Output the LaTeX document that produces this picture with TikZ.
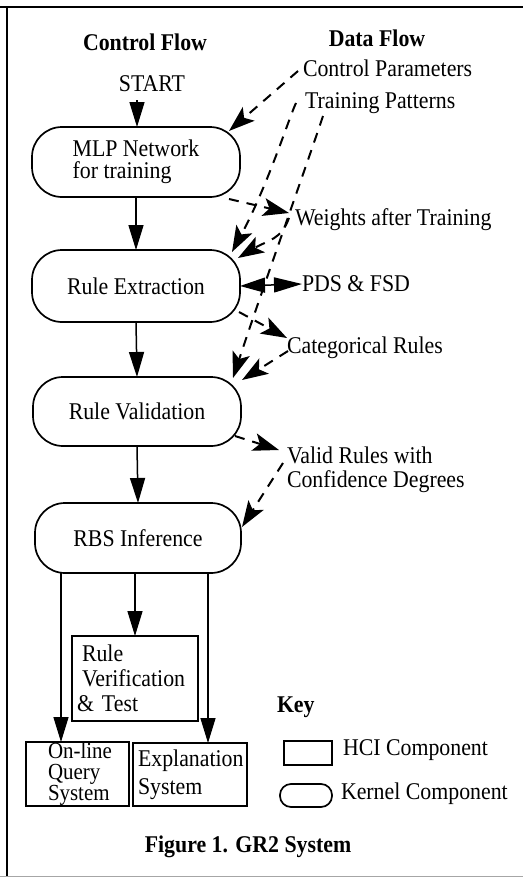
\documentclass[tikz,border=0pt]{standalone}
\usepackage{fontspec}
\setmainfont{Liberation Serif}[FakeStretch=0.91]
\usetikzlibrary{arrows.meta,calc}
\newcommand{\fs}[2]{\fontsize{#1}{#2}\selectfont}
\begin{document}
\begin{tikzpicture}[x=1pt,y=-1pt,
  every node/.style={font=\fs{24}{24}, inner sep=0pt, outer sep=0pt},
  bold/.style={font=\fs{24}{24}\bfseries},
  kernel/.style={draw, line width=1.7pt, rounded corners=30pt, minimum width=208pt, minimum height=70pt, align=left},
  hci/.style={draw, line width=1.7pt, align=left},
  lab/.style={anchor=west, align=left},
  arr/.style={line width=1.5pt, -{Triangle[length=25pt,width=15pt]}},
  darr/.style={line width=2pt, dash pattern=on 10pt off 8pt, -{Stealth[length=26pt,width=18pt,inset=6pt]}},
]
\useasboundingbox (0,0) rectangle (523,878);
% frame
\draw[line width=2pt] (0,7) -- (523,7);
\draw[line width=2pt] (7,7) -- (7,876);
\draw[line width=1pt, black!35] (0,876) -- (523,876);

% headings
\node[bold] (cf) at (145,42) {Control Flow};
\node[bold] (df) at (377,38) {Data Flow};
\node (start) at (152,84) {START};
\node[lab] (cp) at (303,68) {Control Parameters};
\node[lab] (tp) at (305,103) {Training Patterns};

% kernel nodes
\node[kernel, font=\fs{24}{22}] (mlp) at (136,162) {MLP Network\\for training};
\node[kernel, minimum height=72pt] (re) at (136,286) {Rule Extraction};
\node[kernel, minimum height=69pt] (rv) at (137,411.5) {Rule Validation};
\node[kernel, minimum width=206pt] (rbs) at (138,538) {RBS Inference};

% hci nodes
\node[hci, font=\fs{24}{25}, text width=126pt, minimum height=85pt] (rvt) at (135,678.5)
  {\hspace*{10pt}Rule\\\hspace*{10pt}Verification\\\hspace*{5pt}\&~Test};
\node[hci, font=\fs{23}{21}, text width=103pt, minimum height=64pt] (olq) at (77.5,774)
  {\hspace*{22pt}On-line\\\hspace*{22pt}Query\\\hspace*{22pt}System};
\node[hci, font=\fs{24}{28}, text width=114pt, minimum height=63pt] (exp) at (190,774.5)
  {\hspace*{5pt}Explanation\\\hspace*{5pt}System};

% data labels
\node[lab] (wat) at (295,220) {Weights after Training};
\node[lab] (pds) at (302,284) {PDS \& FSD};
\node[lab] (cat) at (287,348) {Categorical Rules};
\node[lab] (vr) at (287,470) {Valid Rules with\\Confidence Degrees};

% key
\node[bold, anchor=west] (key) at (277,707) {Key};
\node[draw, line width=1.7pt, minimum width=48pt, minimum height=24pt] (hcik) at (308,753) {};
\node[lab] (hcil) at (343,750) {HCI Component};
\node[draw, line width=1.7pt, rounded corners=11pt, minimum width=52pt, minimum height=23pt] (kerk) at (306,795.5) {};
\node[lab] (kerl) at (341,794) {Kernel Component};

% caption
\node[bold] (cap) at (248,847) {Figure 1. GR2 System};

% control flow
\coordinate (s0) at (137,100);
\draw[arr] (s0) -- (s0 |- mlp.north);
\draw[arr] (mlp.south) -- (re.north);
\draw[arr] (re.south) -- (rv.north);
\draw[arr] (rv.south) -- (rbs.north);
\coordinate (xl) at (61,0);
\coordinate (xm) at (135,0);
\coordinate (xr) at (208,0);
\draw[arr] (rbs.south -| xl) -- (olq.north -| xl);
\draw[arr] (rbs.south -| xm) -- (rvt.north -| xm);
\draw[arr] (rbs.south -| xr) -- (exp.north -| xr);

% data flow
\coordinate (cp0) at (298,71);
\coordinate (mlpA) at (229,131);
\draw[darr] (cp0) -- (mlpA);

\coordinate (tp1) at (296,103);
\coordinate (reA) at (232,252);
\draw[darr] (tp1) .. controls (290,115) and (268,185) .. (reA);

\coordinate (tp2) at (323,116);
\coordinate (rvA) at (233,378);
\draw[darr] (tp2) .. controls (305,170) and (262,290) .. (rvA);

\coordinate (mlpB) at (229,199);
\coordinate (watA) at (289,213);
\draw[darr] (mlpB) -- (watA);

\coordinate (wat0) at (289,218);
\coordinate (reB) at (238,258);
\draw[darr] (wat0) .. controls (281,240) and (268,240) .. (reB);

\draw[line width=1.5pt, {Triangle[length=25pt,width=15pt]}-{Triangle[length=28pt,width=15pt]}] (re.east) -- (pds.west);

\coordinate (reC) at (239,312);
\coordinate (catA) at (287,338);
\draw[darr] (reC) -- (catA);

\coordinate (cat0) at (288,351);
\coordinate (rvB) at (242,380);
\draw[darr] (cat0) -- (rvB);

\coordinate (rvC) at (235,436);
\coordinate (vrA) at (279,450);
\draw[darr] (rvC) -- (vrA);

\coordinate (vr0) at (283,463);
\coordinate (rbsA) at (242,527);
\draw[darr] (vr0) -- (rbsA);
\end{tikzpicture}
\end{document}
